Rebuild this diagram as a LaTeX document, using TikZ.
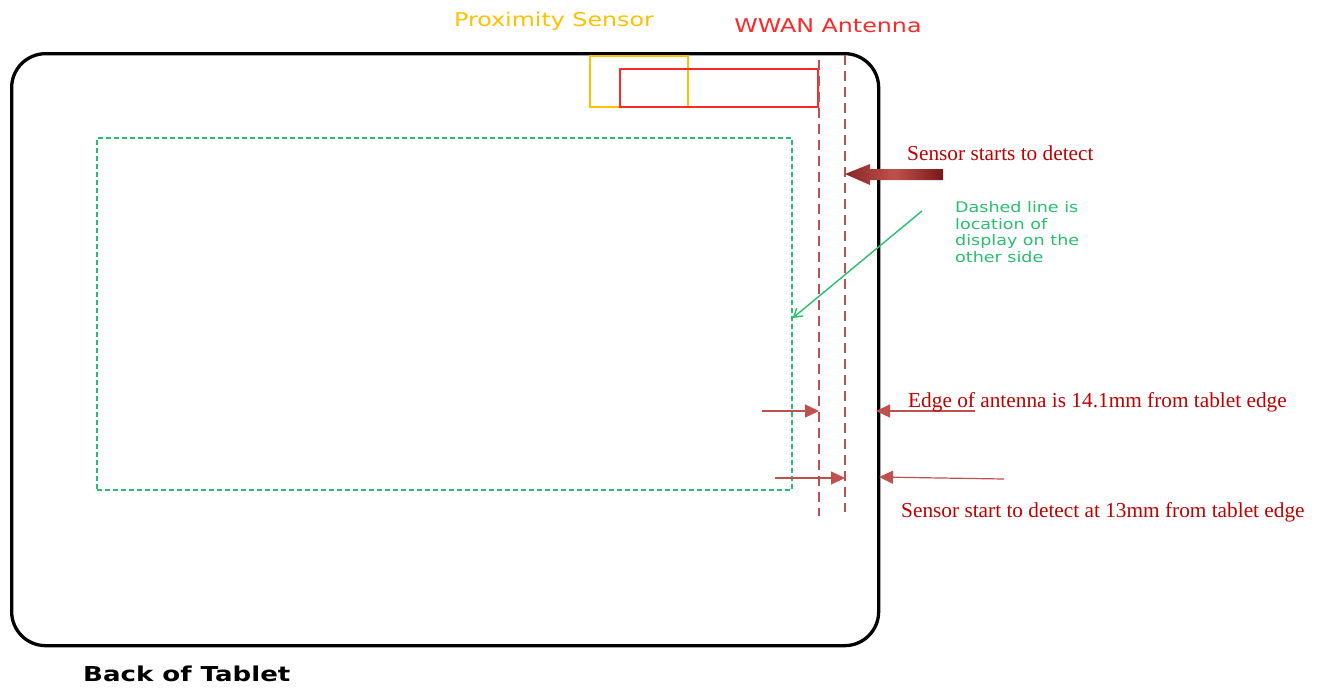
\documentclass[tikz,border=0pt]{standalone}
\usepackage{fontspec}
\setmainfont{Liberation Serif}
\newfontfamily\vsansA[FakeStretch=1.25]{DejaVu Sans}
\newfontfamily\vsansB[FakeStretch=1.2]{DejaVu Sans}
\newfontfamily\vsansC[FakeStretch=1.27]{DejaVu Sans}
\usetikzlibrary{arrows.meta}
\definecolor{dred}{RGB}{192,80,77}
\definecolor{tred}{RGB}{192,0,0}
\definecolor{dgreen}{RGB}{40,190,110}
\definecolor{sorange}{RGB}{255,192,0}
\definecolor{ared}{RGB}{255,40,40}
\tikzset{
  tablet/.style={draw=black,line width=3.3pt,rounded corners=34pt},
  display/.style={draw=dgreen,line width=1.7pt,dash pattern=on 5pt off 3pt},
  sensorbox/.style={draw=sorange,line width=1.8pt},
  antbox/.style={draw=ared,line width=1.8pt},
  edgeline/.style={draw=dred,line width=2.7pt,dash pattern=on 10pt off 6pt},
  dimarrow/.style={draw=dred,line width=1.2pt,-{Triangle[length=14pt,width=13pt]}},
  redlabel/.style={text=tred,font=\fontsize{21.3}{24}\selectfont,inner sep=0pt,anchor=west},
  sanslabel/.style={font=\vsansA\fontsize{19}{22}\selectfont,inner sep=0pt},
}
\begin{document}
\begin{tikzpicture}[x=1pt,y=-1pt]
\useasboundingbox (0,0) rectangle (1319,689);
% tablet
\node[tablet,minimum width=867pt,minimum height=592pt,anchor=north west] (tab) at (10,52) {};
% display location
\node[display,minimum width=695pt,minimum height=352pt,anchor=north west] (disp) at (96,137) {};
% proximity sensor and antenna
\node[sensorbox,minimum width=98pt,minimum height=51pt,anchor=north west] (prox) at (589,55) {};
\node[antbox,minimum width=198pt,minimum height=38pt,anchor=north west] (ant) at (619,68) {};
% dashed edge lines
\coordinate (a1) at (819,60);
\coordinate (a2) at (819,516);
\coordinate (b1) at (845,55);
\coordinate (b2) at (845,512);
\draw[edgeline] (a1) -- (a2);
\draw[edgeline] (b1) -- (b2);
% top labels
\node[sanslabel,text=sorange] (proxlbl) at (554,21) {Proximity Sensor};
\node[sanslabel,text=ared] (antlbl) at (828,26) {WWAN Antenna};
% big arrow
\node[redlabel] (detect) at (907,153) {Sensor starts to detect};
\shade[left color=red!45!black!85,right color=red!40!black!90,middle color=dred]
  (845,174) -- (870,164) -- (870,169) -- (943,169) -- (943,180) -- (870,180) -- (870,185) -- cycle;
% green note
\node[font=\vsansB\fontsize{14.6}{16.7}\selectfont,text=dgreen,align=left,anchor=north west,inner sep=0pt] (note) at (955,201)
  {Dashed line is\\location of\\display on the\\other side};
\coordinate (gstart) at (922,211);
\draw[draw=dgreen,line width=1.4pt,-{Straight Barb[length=8pt,width=10pt]}] (gstart) -- (disp.east |- 0,318);
% dimension arrows
\coordinate (d1) at (762,411);
\coordinate (d2) at (975,411);
\coordinate (d3) at (775,478);
\coordinate (d4) at (1004,479);
\draw[dimarrow] (d1) -- (a1 |- d1);
\draw[dimarrow] (d2) -- (876,411);
\draw[dimarrow] (d3) -- (b1 |- d3);
\draw[dimarrow] (d4) -- (879,477);
\node[redlabel] (edgelbl) at (908,402) {Edge of antenna is 14.1mm from tablet edge};
\node[redlabel] (sslbl) at (901,512) {Sensor start to detect at 13mm from tablet edge};
% caption
\node[font=\vsansC\bfseries\fontsize{20.5}{23}\selectfont,inner sep=0pt,anchor=west] (cap) at (83,674) {Back of Tablet};
\end{tikzpicture}
\end{document}
